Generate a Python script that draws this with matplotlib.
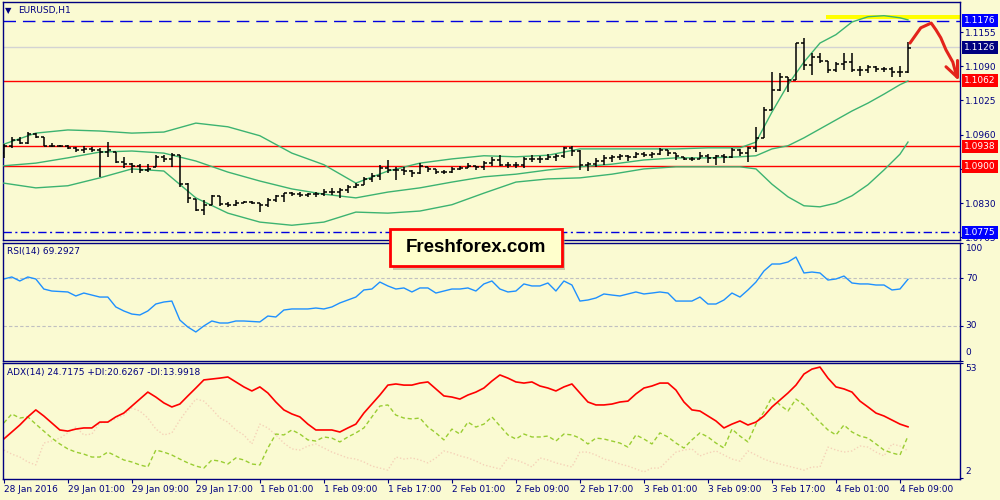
import numpy as np
import matplotlib
matplotlib.use("Agg")
import matplotlib.pyplot as plt
import matplotlib.transforms as mtransforms
from matplotlib.patches import Rectangle

# ---- data (EURUSD H1, one value per hourly bar) ----
time_labels = ['28 Jan 2016', '29 Jan 01:00', '29 Jan 09:00', '29 Jan 17:00',
               '1 Feb 01:00', '1 Feb 09:00', '1 Feb 17:00', '2 Feb 01:00',
               '2 Feb 09:00', '2 Feb 17:00', '3 Feb 01:00', '3 Feb 09:00',
               '3 Feb 17:00', '4 Feb 01:00', '4 Feb 09:00']
label_bars = [0, 8, 16, 24, 32, 40, 48, 56, 64, 72, 80, 88, 96, 104, 112]

highs = [1.0942, 1.0956, 1.0956, 1.0965, 1.0963, 1.0956, 1.0944, 1.0940, 1.0940, 1.0937,
         1.0939, 1.0937, 1.0935, 1.0946, 1.0927, 1.0918, 1.0906, 1.0904, 1.0904, 1.0921,
         1.0921, 1.0925, 1.0921, 1.0868, 1.0838, 1.0836, 1.0846, 1.0844, 1.0832, 1.0836,
         1.0834, 1.0834, 1.0830, 1.0840, 1.0846, 1.0849, 1.0851, 1.0851, 1.0849, 1.0851,
         1.0857, 1.0859, 1.0859, 1.0865, 1.0868, 1.0880, 1.0887, 1.0903, 1.0912, 1.0899,
         1.0899, 1.0893, 1.0906, 1.0899, 1.0895, 1.0893, 1.0899, 1.0901, 1.0906, 1.0901,
         1.0910, 1.0918, 1.0921, 1.0908, 1.0908, 1.0918, 1.0921, 1.0920, 1.0923, 1.0923,
         1.0937, 1.0939, 1.0931, 1.0908, 1.0916, 1.0921, 1.0921, 1.0923, 1.0921, 1.0927,
         1.0927, 1.0927, 1.0935, 1.0931, 1.0925, 1.0918, 1.0918, 1.0927, 1.0923, 1.0921,
         1.0923, 1.0935, 1.0933, 1.0937, 1.0975, 1.1013, 1.1079, 1.1077, 1.1070, 1.1134,
         1.1144, 1.1115, 1.1115, 1.1100, 1.1098, 1.1115, 1.1115, 1.1091, 1.1092, 1.1091,
         1.1089, 1.1089, 1.1091, 1.1136]
lows = [1.0916, 1.0935, 1.0942, 1.0942, 1.0954, 1.0939, 1.0937, 1.0937, 1.0933, 1.0927,
        1.0925, 1.0927, 1.0880, 1.0918, 1.0906, 1.0897, 1.0887, 1.0887, 1.0889, 1.0899,
        1.0908, 1.0899, 1.0861, 1.0830, 1.0815, 1.0808, 1.0827, 1.0825, 1.0823, 1.0825,
        1.0830, 1.0828, 1.0813, 1.0823, 1.0832, 1.0832, 1.0844, 1.0842, 1.0842, 1.0842,
        1.0844, 1.0846, 1.0840, 1.0849, 1.0859, 1.0865, 1.0870, 1.0874, 1.0887, 1.0874,
        1.0884, 1.0880, 1.0885, 1.0889, 1.0885, 1.0885, 1.0887, 1.0893, 1.0897, 1.0893,
        1.0893, 1.0901, 1.0901, 1.0897, 1.0897, 1.0897, 1.0908, 1.0906, 1.0912, 1.0910,
        1.0916, 1.0920, 1.0893, 1.0891, 1.0899, 1.0903, 1.0908, 1.0912, 1.0910, 1.0916,
        1.0918, 1.0916, 1.0921, 1.0920, 1.0912, 1.0912, 1.0910, 1.0914, 1.0906, 1.0903,
        1.0906, 1.0916, 1.0920, 1.0908, 1.0927, 1.0954, 1.1007, 1.1043, 1.1041, 1.1064,
        1.1083, 1.1074, 1.1096, 1.1077, 1.1079, 1.1083, 1.1079, 1.1072, 1.1077, 1.1079,
        1.1079, 1.1070, 1.1070, 1.1077]
opens = [1.0925, 1.0939, 1.0950, 1.0944, 1.0961, 1.0956, 1.0939, 1.0939, 1.0939, 1.0935,
         1.0931, 1.0933, 1.0931, 1.0927, 1.0927, 1.0908, 1.0904, 1.0901, 1.0893, 1.0899,
         1.0918, 1.0914, 1.0921, 1.0866, 1.0838, 1.0817, 1.0827, 1.0844, 1.0828, 1.0827,
         1.0830, 1.0832, 1.0830, 1.0827, 1.0836, 1.0844, 1.0849, 1.0847, 1.0846, 1.0847,
         1.0847, 1.0851, 1.0851, 1.0855, 1.0861, 1.0865, 1.0876, 1.0882, 1.0897, 1.0893,
         1.0893, 1.0891, 1.0887, 1.0899, 1.0895, 1.0889, 1.0889, 1.0895, 1.0897, 1.0901,
         1.0899, 1.0906, 1.0912, 1.0903, 1.0903, 1.0903, 1.0914, 1.0914, 1.0914, 1.0918,
         1.0920, 1.0935, 1.0929, 1.0903, 1.0904, 1.0910, 1.0916, 1.0918, 1.0920, 1.0918,
         1.0923, 1.0921, 1.0923, 1.0931, 1.0925, 1.0918, 1.0914, 1.0914, 1.0920, 1.0916,
         1.0920, 1.0918, 1.0931, 1.0925, 1.0935, 1.0954, 1.1007, 1.1045, 1.1070, 1.1064,
         1.1134, 1.1092, 1.1108, 1.1100, 1.1083, 1.1094, 1.1098, 1.1083, 1.1083, 1.1089,
         1.1085, 1.1085, 1.1079, 1.1079]
closes = [1.0939, 1.0950, 1.0944, 1.0961, 1.0956, 1.0939, 1.0939, 1.0939, 1.0935, 1.0931,
          1.0933, 1.0931, 1.0927, 1.0931, 1.0908, 1.0904, 1.0901, 1.0893, 1.0895, 1.0918,
          1.0914, 1.0921, 1.0866, 1.0840, 1.0817, 1.0827, 1.0844, 1.0828, 1.0827, 1.0830,
          1.0832, 1.0830, 1.0827, 1.0836, 1.0844, 1.0849, 1.0847, 1.0846, 1.0847, 1.0847,
          1.0851, 1.0851, 1.0855, 1.0861, 1.0865, 1.0876, 1.0882, 1.0897, 1.0893, 1.0893,
          1.0891, 1.0887, 1.0901, 1.0895, 1.0889, 1.0889, 1.0895, 1.0897, 1.0901, 1.0899,
          1.0906, 1.0912, 1.0903, 1.0903, 1.0903, 1.0914, 1.0914, 1.0914, 1.0918, 1.0920,
          1.0935, 1.0929, 1.0903, 1.0904, 1.0910, 1.0916, 1.0918, 1.0920, 1.0918, 1.0923,
          1.0921, 1.0923, 1.0931, 1.0925, 1.0920, 1.0914, 1.0914, 1.0920, 1.0916, 1.0920,
          1.0918, 1.0931, 1.0925, 1.0935, 1.0954, 1.1007, 1.1045, 1.1070, 1.1064, 1.1134,
          1.1092, 1.1108, 1.1100, 1.1083, 1.1094, 1.1098, 1.1083, 1.1083, 1.1089, 1.1085,
          1.1085, 1.1079, 1.1079, 1.1125]

# Bollinger bands, read every 4 bars (every 2 bars in the breakout)
bb_bars = [0, 4, 8, 12, 16, 20, 24, 28, 32, 36, 40, 44, 48, 52, 56, 60, 64, 68, 72, 76,
           80, 84, 88, 92, 94, 96, 98, 100, 102, 104, 106, 108, 110, 112, 113]
bb_upper = [1.0942, 1.0963, 1.0969, 1.0967, 1.0963, 1.0965, 1.0982, 1.0975, 1.0958, 1.0925,
            1.0903, 1.0868, 1.0891, 1.0906, 1.0914, 1.0920, 1.0918, 1.0921, 1.0933, 1.0933,
            1.0933, 1.0933, 1.0935, 1.0935, 1.0946, 1.1003, 1.1055, 1.1098, 1.1134, 1.1150,
            1.1174, 1.1184, 1.1186, 1.1182, 1.1178]
bb_middle = [1.0901, 1.0906, 1.0916, 1.0927, 1.0929, 1.0925, 1.0910, 1.0889, 1.0872, 1.0857,
             1.0847, 1.0840, 1.0851, 1.0859, 1.0870, 1.0880, 1.0885, 1.0893, 1.0899, 1.0904,
             1.0912, 1.0916, 1.0916, 1.0918, 1.0920, 1.0933, 1.0939, 1.0954, 1.0971, 1.0988,
             1.1005, 1.1020, 1.1037, 1.1055, 1.1062]
bb_lower = [1.0868, 1.0859, 1.0863, 1.0878, 1.0895, 1.0891, 1.0840, 1.0811, 1.0794, 1.0788,
            1.0794, 1.0813, 1.0811, 1.0815, 1.0827, 1.0849, 1.0870, 1.0876, 1.0878, 1.0885,
            1.0895, 1.0899, 1.0899, 1.0899, 1.0895, 1.0866, 1.0842, 1.0825, 1.0823, 1.0830,
            1.0844, 1.0865, 1.0893, 1.0923, 1.0946]

rsi = [69.5, 71.2, 67.8, 71.2, 69.5, 61.0, 59.3, 58.9, 58.5, 55.1,
       57.6, 55.9, 54.2, 54.2, 45.8, 42.4, 39.8, 39.0, 42.4, 48.3,
       50.0, 50.8, 34.7, 28.8, 24.6, 29.7, 33.9, 32.2, 32.2, 33.9,
       33.9, 33.5, 33.1, 38.1, 37.3, 43.2, 44.1, 44.1, 44.1, 44.9,
       44.1, 45.8, 49.2, 51.7, 54.2, 60.2, 61.0, 66.9, 63.6, 61.0,
       61.9, 58.5, 61.9, 61.9, 57.6, 59.3, 61.0, 61.0, 61.9, 59.3,
       65.3, 67.8, 61.0, 58.5, 59.3, 65.3, 63.6, 63.6, 66.1, 59.3,
       67.8, 64.4, 50.8, 51.7, 53.4, 56.8, 55.9, 55.1, 56.8, 58.5,
       56.8, 57.6, 58.5, 57.6, 50.8, 50.8, 50.8, 54.2, 48.3, 48.3,
       51.7, 57.6, 54.2, 60.2, 66.9, 76.3, 82.2, 82.2, 83.9, 88.1,
       74.6, 75.4, 74.6, 68.6, 69.5, 72.0, 66.1, 65.3, 65.3, 64.4,
       64.4, 60.2, 61.0, 69.3]

adx = [19.3, 22.4, 25.5, 29.1, 32.2, 29.5, 26.4, 23.3, 22.8, 23.7,
       24.2, 24.2, 26.8, 26.8, 29.1, 30.8, 33.9, 37.0, 40.1, 37.9,
       35.3, 33.5, 34.8, 38.4, 41.9, 45.5, 45.9, 46.3, 46.8, 44.6,
       42.4, 40.6, 42.4, 39.7, 35.7, 32.2, 30.4, 29.1, 25.9, 23.3,
       23.3, 23.3, 22.4, 24.2, 25.9, 30.8, 34.8, 38.8, 43.2, 43.7,
       43.2, 43.2, 44.1, 44.6, 41.5, 38.4, 37.9, 37.0, 38.8, 40.1,
       41.9, 45.0, 47.7, 46.3, 44.6, 44.1, 44.6, 42.8, 41.9, 40.6,
       42.4, 43.7, 39.7, 35.7, 34.4, 34.4, 34.8, 35.7, 36.1, 39.3,
       41.9, 42.8, 44.1, 44.1, 41.0, 35.7, 32.2, 31.7, 29.5, 27.3,
       24.2, 25.9, 27.3, 25.5, 26.8, 29.5, 33.5, 36.6, 39.7, 43.2,
       48.1, 50.3, 51.2, 46.3, 42.4, 41.5, 40.1, 36.1, 33.5, 30.8,
       29.5, 27.7, 25.9, 24.7]
plus_di = [26.4, 30.4, 28.6, 29.1, 25.9, 22.8, 19.7, 17.1, 14.9, 13.5,
           12.6, 11.3, 11.3, 13.5, 11.8, 10.0, 9.1, 7.8, 6.9, 14.4,
           13.5, 12.2, 10.4, 8.7, 7.3, 6.4, 10.0, 9.5, 8.2, 10.9,
           10.0, 8.2, 7.8, 15.3, 21.5, 21.1, 23.3, 21.5, 18.9, 18.4,
           20.2, 19.7, 18.0, 20.2, 22.0, 24.2, 29.1, 33.9, 34.4, 29.9,
           28.6, 28.2, 28.6, 24.6, 22.0, 18.9, 23.7, 21.5, 26.8, 24.6,
           25.9, 29.1, 25.1, 21.1, 19.3, 21.5, 20.2, 20.2, 20.6, 18.4,
           21.5, 21.1, 19.7, 17.1, 19.7, 19.3, 18.4, 17.5, 15.7, 21.1,
           19.3, 17.1, 22.0, 20.2, 17.5, 15.3, 18.9, 22.0, 20.2, 17.5,
           15.3, 23.7, 20.6, 18.0, 25.9, 31.3, 37.9, 34.4, 31.7, 37.0,
           34.4, 30.4, 26.8, 23.3, 21.1, 25.5, 22.4, 20.6, 19.7, 17.1,
           14.4, 13.1, 12.2, 20.6]
minus_di = [14.4, 12.6, 11.3, 9.1, 7.8, 17.5, 18.4, 19.7, 22.0, 24.6,
            21.1, 21.5, 26.4, 26.8, 28.2, 29.9, 33.0, 31.7, 28.6, 23.7,
            21.1, 22.0, 27.7, 32.6, 37.0, 36.1, 32.6, 28.6, 26.8, 23.3,
            21.1, 17.1, 25.9, 24.2, 21.1, 17.5, 14.9, 14.4, 16.2, 17.1,
            15.3, 13.5, 12.2, 10.9, 10.4, 9.1, 7.3, 6.4, 5.5, 11.3,
            10.4, 10.9, 10.0, 8.7, 10.9, 14.0, 13.1, 11.8, 10.9, 9.5,
            7.8, 6.9, 6.0, 10.9, 10.0, 8.7, 6.9, 10.9, 10.0, 8.7,
            7.8, 6.9, 13.5, 13.5, 12.2, 10.4, 9.5, 8.2, 7.3, 6.0,
            4.7, 6.4, 6.4, 10.0, 13.5, 14.4, 14.9, 11.8, 13.1, 14.0,
            12.2, 10.4, 9.5, 14.0, 12.2, 10.4, 9.1, 8.2, 7.3, 6.4,
            5.5, 6.9, 6.9, 15.7, 14.4, 13.5, 14.0, 16.2, 15.7, 13.5,
            11.8, 17.1, 16.2, 14.0]

price_ticks = [1.1155, 1.1090, 1.1025, 1.0960, 1.0895, 1.0830, 1.0765]
level_top = 1.1176        # blue dashed
level_bid = 1.1126        # current price
red_levels = [1.1062, 1.0938, 1.0900]
level_bottom = 1.0775     # blue dash-dot

# hand-drawn forecast arrow (bar index, price)
arrow_x = [113.25, 114.6, 115.9, 116.5, 117.1, 117.75, 118.6, 119.1]
arrow_y = [1.1134, 1.1163, 1.1172, 1.1159, 1.1144, 1.1121, 1.1098, 1.1070]

BG = '#FAFAD2'
NAVY = '#000080'
FS = 6.5

plt.rcParams['font.family'] = ['DejaVu Sans']

fig = plt.figure(figsize=(10, 5), dpi=100, facecolor=BG)
ax_p = fig.add_axes([0.003, 0.52, 0.957, 0.476])
ax_r = fig.add_axes([0.003, 0.278, 0.957, 0.236])
ax_a = fig.add_axes([0.003, 0.042, 0.957, 0.232])

x = np.arange(len(closes))
xlim = (-0.1, 119.5)

for ax in (ax_p, ax_r, ax_a):
    ax.set_facecolor(BG)
    ax.set_xlim(*xlim)
    for s in ax.spines.values():
        s.set_color(NAVY)
        s.set_linewidth(1.0)
    ax.yaxis.tick_right()
    ax.tick_params(axis='y', colors=NAVY, labelsize=FS, length=2.5, width=0.8, pad=1.2)

# ---- price panel ----
ax_p.set_ylim(1.0760, 1.1212)
ax_p.axhspan(1.1180, 1.11875, xmin=0.86, xmax=1.0, color='#FFFF00', lw=0, zorder=1)
ax_p.axhline(level_top, color='#0000E0', lw=1.0, ls=(0, (9, 5)), zorder=2)
ax_p.axhline(level_bid, color='#D3D3D3', lw=1.0, zorder=2)
for lv in red_levels:
    ax_p.axhline(lv, color='#FF0000', lw=1.0, zorder=2)
ax_p.axhline(level_bottom, color='#0000E0', lw=1.0, ls=(0, (6, 2.5, 1.5, 2.5)), zorder=2)

for band in (bb_upper, bb_middle, bb_lower):
    ax_p.plot(bb_bars, band, color='#3CB371', lw=1.0, zorder=3)

ax_p.vlines(x, lows, highs, color='black', lw=1.1, zorder=4)
ax_p.hlines(opens, x - 0.4, x, color='black', lw=1.1, zorder=4)
ax_p.hlines(closes, x, x + 0.4, color='black', lw=1.1, zorder=4)

ax_p.set_xticks([])
ax_p.set_yticks(price_ticks)
ax_p.set_yticklabels([f'{v:.4f}' for v in price_ticks])

ptrans = mtransforms.blended_transform_factory(ax_p.transAxes, ax_p.transData)
tags = [(level_top, '#0000FF'), (level_bid, '#000080'), (red_levels[0], '#FF0000'),
        (red_levels[1], '#FF0000'), (red_levels[2], '#FF0000'), (level_bottom, '#0000FF')]
for val, fc in tags:
    ax_p.text(1.0045, val, f'{val:.4f}', transform=ptrans, ha='left', va='center',
              color='white', fontsize=FS,
              bbox=dict(boxstyle='square,pad=0.22', fc=fc, ec='none'),
              clip_on=False, zorder=20)

ax_p.text(0.002, 0.966, '\u25bc', transform=ax_p.transAxes, fontsize=6,
          color=NAVY, ha='left', va='center')
ax_p.text(0.0155, 0.966, 'EURUSD,H1', transform=ax_p.transAxes, fontsize=FS,
          color=NAVY, ha='left', va='center')

# forecast arrow
ax_p.plot(arrow_x, arrow_y, color='#E3241B', lw=2.2, clip_on=False,
          solid_capstyle='round', solid_joinstyle='round', zorder=15)
ax_p.plot([117.75, arrow_x[-1]], [1.1089, arrow_y[-1]], color='#E3241B', lw=2.2,
          clip_on=False, solid_capstyle='round', zorder=15)
ax_p.plot([arrow_x[-1], arrow_x[-1]], [1.1102, arrow_y[-1]], color='#E3241B', lw=2.2,
          clip_on=False, solid_capstyle='round', zorder=15)

# ---- RSI panel ----
ax_r.set_ylim(0, 100)
ax_r.axhline(70, color='#C0C0C0', lw=0.8, ls=(0, (3, 2)))
ax_r.axhline(30, color='#C0C0C0', lw=0.8, ls=(0, (3, 2)))
ax_r.plot(x, rsi, color='#1E90FF', lw=1.0)
ax_r.set_xticks([])
ax_r.set_yticks([100, 70, 30, 0])
ax_r.set_yticklabels([])
rtrans = mtransforms.blended_transform_factory(ax_r.transAxes, ax_r.transData)
for val, ypos in [('100', 95), ('70', 70), ('30', 30), ('0', 7)]:
    ax_r.text(1.006, ypos, val, transform=rtrans, ha='left', va='center',
              fontsize=FS, color=NAVY, clip_on=False)
ax_r.text(0.004, 0.93, 'RSI(14) 69.2927', transform=ax_r.transAxes, fontsize=FS,
          color=NAVY, ha='left', va='center')

# ---- ADX panel ----
ax_a.set_ylim(1.56, 53)
ax_a.plot(x, minus_di, color='#F5D2B8', lw=1.0, ls=(0, (1, 1.5)))
ax_a.plot(x, plus_di, color='#9ACD32', lw=1.0, ls=(0, (3, 2)))
ax_a.plot(x, adx, color='#FF0000', lw=1.2)
ax_a.set_yticks([53, 2])
ax_a.set_yticklabels([])
atrans = mtransforms.blended_transform_factory(ax_a.transAxes, ax_a.transData)
for val, ypos in [('53', 50.4), ('2', 4.7)]:
    ax_a.text(1.006, ypos, val, transform=atrans, ha='left', va='center',
              fontsize=FS, color=NAVY, clip_on=False)
ax_a.text(0.004, 0.92, 'ADX(14) 24.7175 +DI:20.6267 -DI:13.9918', transform=ax_a.transAxes,
          fontsize=FS, color=NAVY, ha='left', va='center')

ax_a.set_xticks(label_bars)
ax_a.set_xticklabels(time_labels, ha='left')
ax_a.tick_params(axis='x', colors=NAVY, labelsize=FS, length=3, width=0.8, pad=1.5)

# ---- watermark ----
shadow = Rectangle((0.393, 1 - 270 / 500), 0.172, 37 / 500, transform=fig.transFigure,
                   fc='#9a9a80', ec='none', alpha=0.5, zorder=9)
box = Rectangle((0.390, 1 - 266 / 500), 0.172, 37 / 500, transform=fig.transFigure,
                fc='#FFFFCC', ec='#FF0000', lw=2.0, zorder=10)
fig.patches.extend([shadow, box])
fig.text(0.476, 1 - 248 / 500, 'Freshforex.com', fontsize=13.5, fontweight='bold',
         family='Liberation Sans', color='black', ha='center', va='center', zorder=11)

fig.savefig('out.png', dpi=100, facecolor=BG)
